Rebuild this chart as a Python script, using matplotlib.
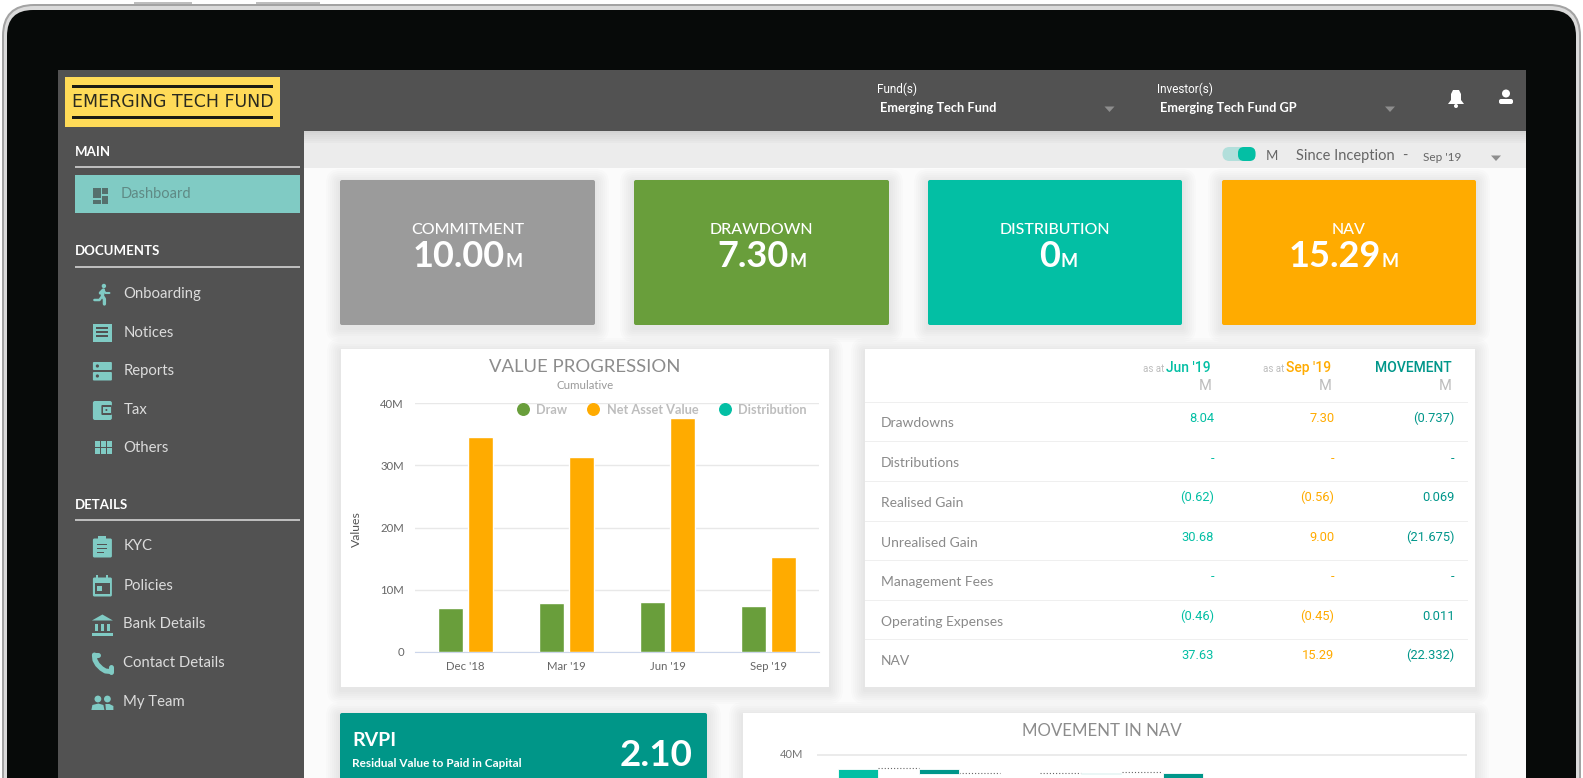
import matplotlib
matplotlib.use("Agg")
import matplotlib.pyplot as plt
from matplotlib.lines import Line2D
from matplotlib.patches import Circle, FancyBboxPatch, Polygon, Rectangle
from matplotlib.ticker import FuncFormatter

W, H = 1583, 778
plt.rcParams['font.family'] = ['Lato', 'DejaVu Sans']

GREY = '#9B9B9B'
GREEN = '#699E3B'
TEAL = '#03BFA4'
DARK_TEAL = '#00968A'
ORANGE = '#FFAB00'
SIDE = '#525252'
MINT = '#80CBC4'

# value progression chart
periods = ["Dec '18", "Mar '19", "Jun '19", "Sep '19"]
draw_values = [7.05, 7.8, 7.95, 7.30]
nav_values = [34.5, 31.35, 37.6, 15.29]
progress_ticks = [0, 10, 20, 30, 40]

# movement in nav chart, only the top of it is on the picture
movement_labels = ['Jun NAV', 'Drawdowns', 'Distributions', 'Realised', 'Unrealised', 'Fees', 'Expenses', 'Sep NAV']
movement_deltas = [37.63, -0.737, 0, 0.069, -21.675, 0, 0.011, 15.29]

# kpi cards
kpi_names = ['COMMITMENT', 'DRAWDOWN', 'DISTRIBUTION', 'NAV']
kpi_values = ['10.00', '7.30', '0', '15.29']

# table
row_names = ['Drawdowns', 'Distributions', 'Realised Gain', 'Unrealised Gain',
             'Management Fees', 'Operating Expenses', 'NAV']
jun_column = ['8.04', '-', '(0.62)', '30.68', '-', '(0.46)', '37.63']
sep_column = ['7.30', '-', '(0.56)', '9.00', '-', '(0.45)', '15.29']
move_column = ['(0.737)', '-', '0.069', '(21.675)', '-', '0.011', '(22.332)']

# side menu
documents_menu = ['Onboarding', 'Notices', 'Reports', 'Tax', 'Others']
details_menu = ['KYC', 'Policies', 'Bank Details', 'Contact Details', 'My Team']

fig = plt.figure(figsize=(W / 100, H / 100), dpi=100, facecolor='white')
bg = fig.add_axes([0, 0, 1, 1], zorder=0)
bg.set_xlim(0, W)
bg.set_ylim(H, 0)
bg.axis('off')


def px_axes(left, top, right, bottom, zorder=3):
    return fig.add_axes([left / W, 1 - bottom / H, (right - left) / W, (bottom - top) / H],
                        zorder=zorder, facecolor='none')


def box(x0, y0, x1, y1, color, z=1, **kw):
    bg.add_patch(Rectangle((x0, y0), x1 - x0, y1 - y0, facecolor=color, edgecolor='none', zorder=z, **kw))


def round_box(x0, y0, x1, y1, r, color, z=1, **kw):
    bg.add_patch(FancyBboxPatch((x0 + r, y0 + r), x1 - x0 - 2 * r, y1 - y0 - 2 * r,
                                boxstyle=f'round,pad={r},rounding_size={r}',
                                facecolor=color, edgecolor='none', zorder=z, **kw))


def shadow(x0, y0, x1, y1, size=14, z=2):
    for i in range(size, 0, -2):
        round_box(x0 - i, y0 - i + 3, x1 + i, y1 + i + 3, i, 'black', z=z, alpha=0.011)


def txt(x, y, s, size=10, color='#777777', ha='left', va='center', z=6, **kw):
    return bg.text(x, y, s, fontsize=size, color=color, ha=ha, va=va, zorder=z, **kw)


def arrow(x, y, color='#8E8E8E'):
    bg.add_patch(Polygon([(x - 5, y - 2.5), (x + 5, y - 2.5), (x, y + 3)], facecolor=color, edgecolor='none', zorder=6))


def stroke(xs, ys, lw=2.2, color=MINT, z=6):
    bg.add_line(Line2D(xs, ys, color=color, lw=lw, zorder=z, solid_capstyle='round'))


def dot(x, y, r, color=MINT, z=6):
    bg.add_patch(Circle((x, y), r, facecolor=color, edgecolor='none', zorder=z))


# bezel
round_box(2, 4, 1581, 830, 32, '#A3A3A3', z=0)
round_box(4, 6, 1579, 830, 30, '#DADADA', z=0.1)
round_box(7, 10, 1576, 830, 26, '#070A09', z=0.2)
box(134, 1.5, 192, 4, '#BDBDBD', z=0)
box(256, 1.5, 320, 4, '#BDBDBD', z=0)

# dashboard background
box(58, 70, 1526, H, SIDE, z=0.5)
box(304.5, 131, 1526, H, '#FBFBFB', z=0.6)
box(304.5, 131, 1526, 168, '#ECECEC', z=0.7)
for i in range(6):
    box(304.5, 131 + i * 2, 1526, 133 + i * 2, 'black', z=0.8, alpha=0.10 - i * 0.016)

# logo
box(65, 77, 280, 127, '#FFDB58', z=1)
box(72, 85, 273, 87.5, '#1B1B14', z=2)
box(72, 116, 273, 118.5, '#1B1B14', z=2)
txt(173, 102, 'EMERGING TECH FUND', size=12.5, color='#2A2A1F', ha='center', fontfamily=['DejaVu Sans'])

# header
txt(877, 89, 'Fund(s)', size=8.5, color='white', fontfamily=['Roboto', 'DejaVu Sans'])
txt(880, 108, 'Emerging Tech Fund', size=9.2, color='white', fontweight='bold')
arrow(1109.5, 109)
txt(1157.5, 89, 'Investor(s)', size=8.5, color='white', fontfamily=['Roboto', 'DejaVu Sans'])
txt(1160, 108, 'Emerging Tech Fund GP', size=9.2, color='white', fontweight='bold')
arrow(1390, 109)

# bell
bg.add_patch(Polygon([(1448, 104), (1451, 100), (1451, 94), (1453, 90), (1459, 90), (1461, 94),
                      (1461, 100), (1464, 104)], facecolor='white', edgecolor='none', zorder=6))
dot(1456, 106, 2, color='white')
# user
dot(1506, 93.5, 4, color='white')
round_box(1499, 99, 1513, 104, 2, 'white', z=6)

# toolbar
round_box(1222.5, 147, 1255.5, 161, 7, '#B2DFDB', z=3)
round_box(1238, 147, 1255.5, 161, 6, TEAL, z=4)
txt(1271.5, 156, 'M', size=9.5, color='#666666', ha='center')
txt(1296.5, 156, 'Since Inception', size=10.5, color='#666666')
txt(1405, 156, '-', size=10.5, color='#666666', ha='center')
txt(1423, 157, "Sep '19", size=8.5, color='#666666')
arrow(1496, 158)

# sidebar headings
for name, y_text, y_line in [('MAIN', 152, 167), ('DOCUMENTS', 251, 267), ('DETAILS', 505, 520)]:
    txt(75, y_text, name, size=9.5, color='white', fontweight='bold')
    box(75, y_line - 0.8, 300, y_line + 0.8, '#BDBDBD', z=2)

box(75, 175, 300, 213, MINT, z=2)
txt(121, 194, 'Dashboard', size=10.5, color='#5F8A85')
for x0, y0, w, h in [(92.7, 188, 8, 10), (102, 188, 6, 6), (92.7, 199.5, 8, 4), (102, 195.5, 6, 8)]:
    box(x0, y0, x0 + w, y0 + h, '#55706D', z=3)


def icon_onboarding(cx, cy):
    dot(cx + 1.5, cy - 8, 2.2)
    stroke([cx - 2, cx + 1, cx, cx + 2, cx + 2], [cy - 1, cy - 4, cy + 2, cy + 5, cy + 10], lw=2.4)
    stroke([cx, cx - 3, cx - 8], [cy + 2, cy + 6, cy + 6], lw=1.8)
    stroke([cx + 1, cx + 3, cx + 7], [cy - 4, cy - 1, cy - 1], lw=1.5)


def icon_notices(cx, cy):
    box(cx - 9.5, cy - 9, cx + 9.5, cy + 9.5, MINT, z=6)
    for dy in (-4.5, -0.5, 3.5):
        box(cx - 6, cy + dy - 0.8, cx + 6, cy + dy + 0.8, SIDE, z=7)


def icon_reports(cx, cy):
    round_box(cx - 9.5, cy - 9, cx + 9.5, cy - 1, 1, MINT, z=6)
    round_box(cx - 9.5, cy + 1, cx + 9.5, cy + 9.5, 1, MINT, z=6)
    dot(cx - 5, cy - 5, 1.6, SIDE, z=7)
    dot(cx - 5, cy + 5, 1.6, SIDE, z=7)


def icon_tax(cx, cy):
    round_box(cx - 9.5, cy - 9, cx + 9.5, cy + 10, 2, MINT, z=6)
    round_box(cx - 1, cy - 5, cx + 9.5, cy + 5, 1, SIDE, z=7)
    box(cx + 1, cy - 3, cx + 9, cy + 3, MINT, z=8)
    dot(cx + 4, cy, 1, SIDE, z=9)


def icon_grid(cx, cy):
    for i in (-1, 0, 1):
        for j in (-1, 0):
            box(cx + 1 + i * 6 - 2.6, cy + j * 7 + 0.8, cx + 1 + i * 6 + 2.6, cy + j * 7 + 6.3, MINT, z=6)


def icon_kyc(cx, cy):
    round_box(cx - 9.5, cy - 8, cx + 9.5, cy + 11, 1.5, MINT, z=6)
    box(cx - 4, cy - 10.5, cx + 4, cy - 6, MINT, z=6)
    box(cx - 5, cy - 3, cx + 5, cy - 1.8, SIDE, z=7)
    box(cx - 5, cy + 1, cx + 5, cy + 2.2, SIDE, z=7)
    box(cx - 5, cy + 5, cx + 2, cy + 6.2, SIDE, z=7)


def icon_policies(cx, cy):
    round_box(cx - 9.5, cy - 8, cx + 9.5, cy + 11, 1.5, MINT, z=6)
    box(cx - 7.5, cy - 2.5, cx + 7.5, cy + 8.5, SIDE, z=7)
    box(cx - 5, cy, cx, cy + 5, MINT, z=8)
    box(cx - 6, cy - 10.5, cx - 4, cy - 7, MINT, z=6)
    box(cx + 4, cy - 10.5, cx + 6, cy - 7, MINT, z=6)


def icon_bank(cx, cy):
    bg.add_patch(Polygon([(cx - 10.5, cy - 4), (cx, cy - 10), (cx + 10.5, cy - 4)], facecolor=MINT, edgecolor='none', zorder=6))
    for dx in (-7, -1.3, 4.4):
        box(cx + dx, cy - 1, cx + dx + 2.8, cy + 6, MINT, z=6)
    box(cx - 10.5, cy + 8, cx + 10.5, cy + 11, MINT, z=6)


def icon_phone(cx, cy):
    stroke([cx - 8, cx - 7.5, cx - 5, cx - 1, cx + 3, cx + 8], [cy - 8, cy - 3, cy + 1.5, cy + 5.5, cy + 8, cy + 8.5], lw=3.6)
    stroke([cx - 8.5, cx - 4], [cy - 8, cy - 8], lw=3.6)
    stroke([cx + 8.5, cx + 8.5], [cy + 4, cy + 8.5], lw=3.6)


def icon_team(cx, cy):
    dot(cx - 4.5, cy - 3, 3.4)
    dot(cx + 5, cy - 3, 3.4)
    bg.add_patch(Polygon([(cx - 11, cy + 8), (cx - 10, cy + 3), (cx - 4, cy + 1.5), (cx + 1, cy + 3), (cx + 2, cy + 8)],
                         facecolor=MINT, edgecolor='none', zorder=6))
    bg.add_patch(Polygon([(cx + 3.5, cy + 8), (cx + 3, cy + 2), (cx + 7, cy + 2), (cx + 11, cy + 4), (cx + 11, cy + 8)],
                         facecolor=MINT, edgecolor='none', zorder=6))


doc_icons = [icon_onboarding, icon_notices, icon_reports, icon_tax, icon_grid]
doc_y = [294, 332.5, 371, 410, 447.5]
for name, y, icon in zip(documents_menu, doc_y, doc_icons):
    icon(102.4, y)
    txt(123.3, y, name, size=10.7, color='#DCDCDC')

det_icons = [icon_kyc, icon_policies, icon_bank, icon_phone, icon_team]
det_y = [546.5, 585.5, 624.5, 663, 702]
for name, y, icon in zip(details_menu, det_y, det_icons):
    icon(102.4, y)
    txt(123.3, y, name, size=10.7, color='#DCDCDC')

# kpi cards
kpi_boxes = [(340, 595), (634, 889), (928, 1182), (1222, 1476)]
kpi_colors = [GREY, GREEN, TEAL, ORANGE]
kpi_unit_x = [505, 789, 1060, 1381]
for (x0, x1), color, name, value, ux in zip(kpi_boxes, kpi_colors, kpi_names, kpi_values, kpi_unit_x):
    shadow(x0, 180, x1, 325)
    round_box(x0, 180, x1, 325, 2, color, z=3)
    txt((x0 + x1) / 2, 234, name, size=11.5, color='white', ha='center', va='baseline', fontweight='medium')
    txt(ux, 267, value, size=26, color='white', ha='right', va='baseline', fontweight='bold')
    txt(ux + 1, 267, 'M', size=13, color='white', va='baseline', fontweight='bold')

# value progression card
shadow(341, 349, 829, 687)
box(341, 349, 829, 687, 'white', z=3)
txt(585, 367, 'VALUE PROGRESSION', size=13.3, color='#8C8C8C', ha='center')
txt(585, 385, 'Cumulative', size=8.3, color='#9A9A9A', ha='center')

ax = px_axes(415, 403.3, 819, 651.7)
x = list(range(len(periods)))
ax.bar([i - 0.15 for i in x], draw_values, width=0.25, color=GREEN, edgecolor='white', linewidth=1, zorder=3)
ax.bar([i + 0.148 for i in x], nav_values, width=0.25, color=ORANGE, edgecolor='white', linewidth=1, zorder=3)
ax.set_xlim(-0.5, 3.5)
ax.set_ylim(0, 40)
ax.set_xticks(x, periods)
ax.set_yticks(progress_ticks)
ax.yaxis.set_major_formatter(FuncFormatter(lambda v, _: '0' if v == 0 else f'{v:.0f}M'))
ax.grid(axis='y', color='#E8E8E8', lw=1, zorder=0)
ax.set_axisbelow(True)
ax.tick_params(length=0, labelsize=8.2, labelcolor='#666666', pad=8)
ax.tick_params(axis='x', pad=7)
for side in ('top', 'left', 'right'):
    ax.spines[side].set_visible(False)
ax.spines['bottom'].set_color('#CCD6EB')
ax.set_ylabel('Values', fontsize=8.8, color='#555555')
ax.yaxis.set_label_coords(-0.132, 0.495)

handles = [Line2D([], [], marker='o', ls='none', ms=8.3, color=c) for c in (GREEN, ORANGE, TEAL)]
leg = ax.legend(handles, ['Draw', 'Net Asset Value', 'Distribution'], loc='upper right',
                bbox_to_anchor=(0.985, 1.024), ncol=3, frameon=False, handlelength=1.2, handletextpad=0.45,
                columnspacing=1.45, borderpad=0, prop={'size': 9.2, 'weight': 'bold'}, labelcolor='#BDBDBD')

# table card
shadow(865, 349, 1475, 687)
box(865, 349, 1475, 687, 'white', z=3)
num_font = ['Roboto', 'DejaVu Sans']
col_x = [1214, 1334.5, 1454.5]
col_colors = [TEAL, ORANGE, DARK_TEAL]
txt(1211, 368, "Jun '19", size=10, color=TEAL, ha='right', fontfamily=num_font, fontweight='medium')
txt(1164, 369, 'as at', size=7, color='#BDBDBD', ha='right', fontfamily=num_font)
txt(1331.5, 368, "Sep '19", size=10, color=ORANGE, ha='right', fontfamily=num_font, fontweight='medium')
txt(1284, 369, 'as at', size=7, color='#BDBDBD', ha='right', fontfamily=num_font)
txt(1452, 368, 'MOVEMENT', size=10, color=DARK_TEAL, ha='right', fontfamily=num_font, fontweight='medium')
for xr in (1212, 1332, 1452):
    txt(xr, 386, 'M', size=10.5, color='#BDBDBD', ha='right', fontfamily=num_font)

row_lines = [402.3, 441.7, 481.7, 521.3, 560.3, 600.3, 639.7]
row_text_y = [423, 463, 503, 543, 582.5, 622, 661]
row_num_y = [418, 458.5, 497.5, 537.5, 577, 616, 655.5]
for line_y, name, ty in zip(row_lines, row_names, row_text_y):
    box(865, line_y - 0.6, 1468, line_y + 0.6, '#EFEFEF', z=4)
    txt(881, ty, name, size=10, color='#8A8A8A')
for values, cx, color in zip((jun_column, sep_column, move_column), col_x, col_colors):
    for value, ny in zip(values, row_num_y):
        txt(cx, ny, value, size=9.3, color=color, ha='right', fontfamily=num_font)

# rvpi card
shadow(340, 713, 707, 800)
round_box(340, 713, 707, 800, 2, '#009688', z=3)
txt(352, 740, 'RVPI', size=14, color='white', fontweight='bold')
txt(352, 763.5, 'Residual Value to Paid in Capital', size=8.5, color='white', fontweight='bold')
txt(693, 755, '2.10', size=26.5, color='white', ha='right', fontweight='bold')

# movement card
shadow(743, 713, 1475, 800)
box(743, 713, 1475, 800, 'white', z=3)
txt(1102, 731.5, 'MOVEMENT IN NAV', size=12.2, color='#8C8C8C', ha='center')
txt(803.6, 755, '40M', size=8, color='#777777', ha='right')

ax2 = px_axes(817, 750, 1467, 778)
level = 0
levels = []
for i, delta in enumerate(movement_deltas):
    if i == 0 or i == len(movement_deltas) - 1:
        bottom, height = 0, delta
        color = TEAL
        level = delta
    else:
        bottom, height = min(level, level + delta), abs(delta)
        color = DARK_TEAL
        level += delta
    levels.append(level)
    ax2.bar(i, height, bottom=bottom, width=0.49, color=color, edgecolor='white', linewidth=0.6, zorder=3)
for i, lv in enumerate(levels[:-1]):
    ax2.plot([i + 0.25, i + 0.75], [lv + 0.15, lv + 0.15], color='#666666', ls=(0, (1, 1.8)), lw=0.8, zorder=2)
ax2.set_xlim(-0.5, 7.5)
ax2.set_ylim(40 - 23 / 6, 40 + 5 / 6)
ax2.set_xticks([])
ax2.set_yticks([40])
ax2.tick_params(left=False, labelleft=False)
ax2.grid(axis='y', color='#E8E8E8', lw=1.2)
for spine in ax2.spines.values():
    spine.set_visible(False)

fig.savefig('out.png', dpi=100, facecolor='white')
